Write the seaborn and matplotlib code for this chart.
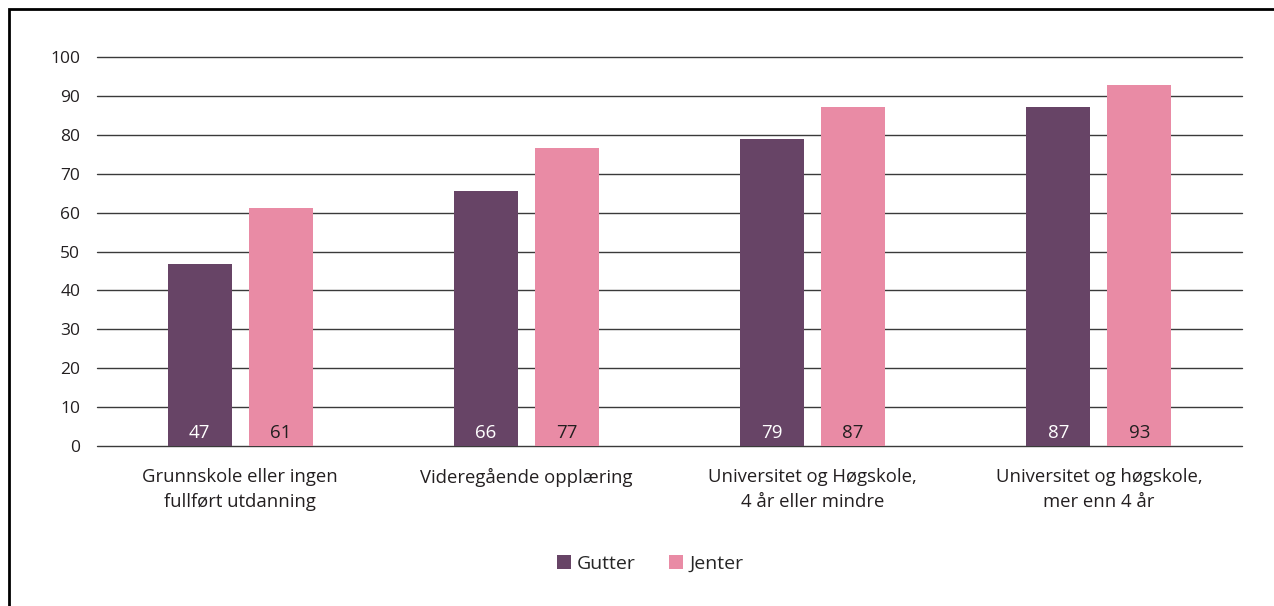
import matplotlib
matplotlib.use("Agg")
import matplotlib.pyplot as plt
import seaborn as sns
import pandas as pd
from matplotlib.patches import Rectangle, Patch

categories = ["Grunnskole eller ingen\nfullført utdanning",
              "Videregående opplæring",
              "Universitet og Høgskole,\n4 år eller mindre",
              "Universitet og høgskole,\nmer enn 4 år"]
gutter = [46.8, 65.6, 78.9, 87.1]
jenter = [61.2, 76.6, 87.1, 92.8]
gutter_labels = ["47", "66", "79", "87"]
jenter_labels = ["61", "77", "87", "93"]
series = ["Gutter", "Jenter"]
colors = ["#674466", "#E98BA5"]
yticks = [0, 10, 20, 30, 40, 50, 60, 70, 80, 90, 100]

df = pd.DataFrame({
    "cat": categories * 2,
    "val": gutter + jenter,
    "ser": ["Gutter"] * 4 + ["Jenter"] * 4,
})

sns.set_theme(style="white")
plt.rcParams["font.family"] = ["Open Sans", "DejaVu Sans"]

fig = plt.figure(figsize=(12.74, 6.06), dpi=100)
ax = fig.add_axes([97/1274, 1-446/606, (1242-97)/1274, (446-57)/606])

sns.barplot(data=df, x="cat", y="val", hue="ser", palette=colors,
            width=0.566, gap=0.21, ax=ax, legend=False, saturation=1,
            linewidth=0, zorder=3)

ax.set_ylim(0, 100)
ax.set_xlim(-0.5, 3.5)
ax.set_yticks(yticks)
ax.set_yticklabels([str(t) for t in yticks], fontsize=12.5, color="#231f20")
for t in yticks:
    ax.axhline(t, color="#3a3a3a", lw=1.0, zorder=1, clip_on=False)
for s in ax.spines.values():
    s.set_visible(False)
ax.tick_params(axis="both", length=0)
ax.tick_params(axis="y", pad=12)
ax.tick_params(axis="x", pad=16)
ax.set_xticks(range(4))
ax.set_xticklabels(categories, fontsize=13.3, color="#231f20", linespacing=1.45)
ax.set_xlabel("")
ax.set_ylabel("")

conts = ax.containers
for cont, labs, col in [(conts[0], gutter_labels, "white"), (conts[1], jenter_labels, "#231f20")]:
    for patch, lab in zip(cont.patches, labs):
        x = patch.get_x() + patch.get_width() / 2
        ax.text(x, 1.0, lab, ha="center", va="bottom", fontsize=13.5, color=col, zorder=4)

handles = [Patch(facecolor=c, edgecolor="none") for c in colors]
fig.legend(handles, series, loc="center", bbox_to_anchor=(650/1274, 1-564/606),
           ncol=2, frameon=False, fontsize=14, handlelength=0.75, handleheight=0.75,
           handletextpad=0.3, columnspacing=1.7)

fig.patches.append(Rectangle((9/1274, -0.05), 1.2, 1 - 9/606 + 0.05, transform=fig.transFigure,
                             fill=False, edgecolor="black", lw=2))

fig.savefig("out.png", dpi=100)
